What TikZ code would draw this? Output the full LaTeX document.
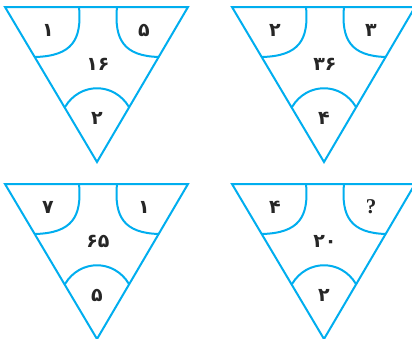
\documentclass[tikz,border=0pt]{standalone}
\usepackage{fontspec}
\newfontfamily\fa[Script=Arabic]{DejaVu Sans}
\newfontfamily\qf{Liberation Serif}
\definecolor{tcyan}{RGB}{0,174,239}
\tikzset{
  edge/.style={draw=tcyan,line width=2pt,line join=miter},
  num/.style={font=\fa\bfseries\fontsize{19}{19}\selectfont, text=black!85, inner sep=0pt},
  qmark/.style={font=\qf\bfseries\fontsize{21}{21}\selectfont, text=black!85, inner sep=0pt}
}
\newcommand\triunit[7]{% #1 name, #2 shift, #3 left, #4 right, #5 centre, #6 bottom, #7 style of right text
  \begin{scope}[shift={#2}]
    \coordinate (#1-tl) at (0,0);
    \coordinate (#1-tr) at (183,0);
    \coordinate (#1-b) at (92,155);
    \draw[edge] (#1-tl) -- (#1-tr) -- (#1-b) -- cycle;
    \draw[edge] (74,0) .. controls (77,33) and (67,49) .. (30,50);
    \draw[edge] (112,0) .. controls (109,33) and (119,49) .. (154,50);
    \draw[edge] (60,100) .. controls (75,75) and (109,75) .. (124,100);
    \node[num] (#1-l) at (43,23) {#3};
    \node[#7] (#1-r) at (139,23) {#4};
    \node[num] (#1-c) at (93,57) {#5};
    \node[num] (#1-d) at (92,111) {#6};
  \end{scope}}
\begin{document}
\begin{tikzpicture}[x=1pt,y=-1pt]
  \useasboundingbox (0,0) rectangle (412,338);
  \fill[white] (0,0) rectangle (412,338);
  \triunit{A}{(5,7)}{۱}{۵}{۱۶}{۲}{num}
  \triunit{B}{(232,7)}{۲}{۳}{۳۶}{۴}{num}
  \triunit{C}{(5,184)}{۷}{۱}{۶۵}{۵}{num}
  \triunit{D}{(232,184)}{۴}{?}{۲۰}{۲}{qmark}
\end{tikzpicture}
\end{document}
